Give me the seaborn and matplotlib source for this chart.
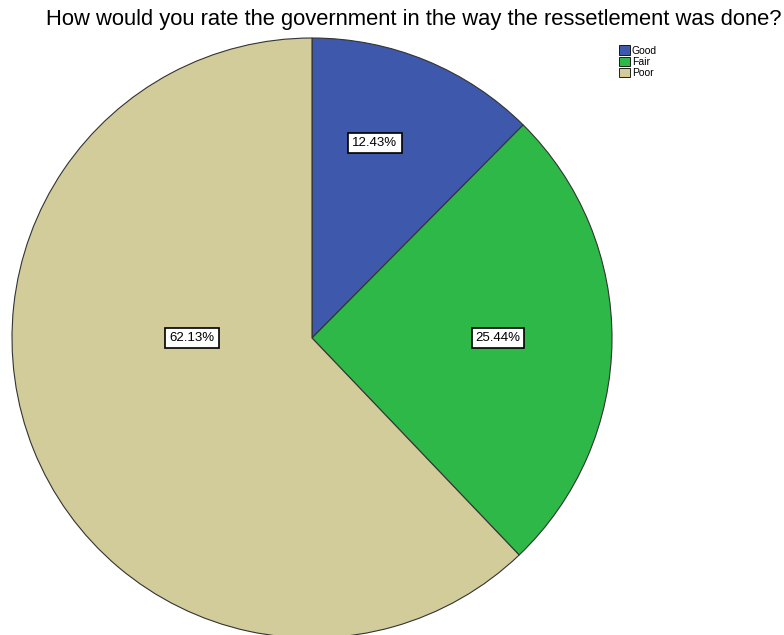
import matplotlib
matplotlib.use("Agg")
import matplotlib.pyplot as plt
import seaborn as sns
from matplotlib.patches import Patch

categories = ["Good", "Fair", "Poor"]
values = [12.43, 25.44, 62.13]
pct_labels = ["12.43%", "25.44%", "62.13%"]
colors = ["#3e58ac", "#2eb848", "#d2cc9a"]

sns.set_theme(style="white")
plt.rcParams['font.family'] = ['Liberation Sans', 'DejaVu Sans']
plt.rcParams['text.color'] = 'black'

W, H = 784, 635
fig = plt.figure(figsize=(W / 100, H / 100), dpi=100)
cx, cy, r = 312, 338, 300
ax = fig.add_axes([(cx - r) / W, (H - cy - r) / H, 2 * r / W, 2 * r / H])
wedges, _ = ax.pie(values, colors=colors, startangle=90, counterclock=False,
                   radius=1.0, wedgeprops=dict(edgecolor="#333333", linewidth=0.8))
ax.set_xlim(-1, 1)
ax.set_ylim(-1, 1)
ax.set_aspect("equal")
ax.axis("off")

label_pos = [(0.21, 0.65), (0.62, 0.0), (-0.40, 0.0)]
for (x, y), t in zip(label_pos, pct_labels):
    ax.text(x, y, t, ha="center", va="center", fontsize=9.5, color="black",
            bbox=dict(boxstyle="square,pad=0.3", fc="white", ec="black", lw=1.2))

fig.text(414 / W, 1 - 20 / H, "How would you rate the government in the way the ressetlement was done?",
         ha="center", va="center", fontsize=15.8, color="black")

handles = [Patch(facecolor=c, edgecolor="black", linewidth=0.6) for c in colors]
fig.legend(handles, categories, loc="upper left", bbox_to_anchor=(612 / W, 1 - 38 / H),
           frameon=False, fontsize=7.5, handlelength=1.0, handleheight=1.0,
           handletextpad=0.2, labelspacing=0.1, borderpad=0.2)

fig.savefig("out.png", dpi=100, facecolor="white")
